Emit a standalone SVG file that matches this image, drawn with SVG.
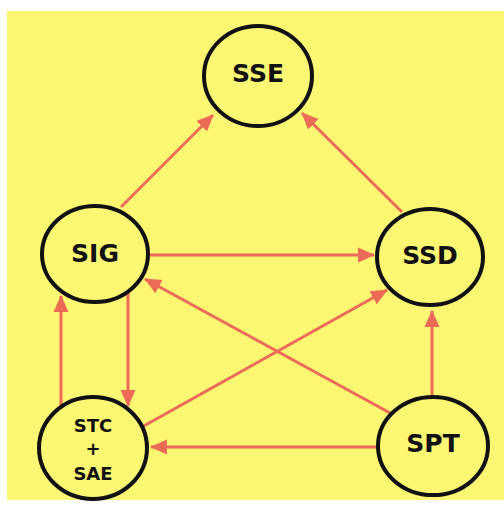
<svg xmlns="http://www.w3.org/2000/svg" width="504" height="506" viewBox="0 0 504 506">
  <style>
    .node ellipse { fill: none; stroke: #111; stroke-width: 4; }
    .node text { font-family: "DejaVu Sans", Verdana, sans-serif; font-weight: bold; fill: #111; text-anchor: middle; dominant-baseline: central; }
    .big { font-size: 25px; }
    .small { font-size: 18px; }
    .edge { stroke: #ec6b57; stroke-width: 3; fill: none; marker-end: url(#arrow); }
  </style>
  <defs>
    <marker id="arrow" markerUnits="userSpaceOnUse" markerWidth="17" markerHeight="16" viewBox="0 0 17 16" refX="16" refY="8" orient="auto">
      <path d="M0,0.5 L17,8 L0,15.5 Z" fill="#ec6b57"/>
    </marker>
  </defs>
  <rect x="0" y="0" width="504" height="506" fill="#ffffff"/>
  <rect x="7" y="11" width="497" height="489" fill="#fbf773"/>

  <g id="connectors">
    <line class="edge" x1="121" y1="207" x2="213" y2="115"/>
    <line class="edge" x1="402" y1="212" x2="302" y2="113"/>
    <line class="edge" x1="150" y1="255" x2="374" y2="255"/>
    <line class="edge" x1="390" y1="413" x2="145" y2="279"/>
    <line class="edge" x1="142" y1="427" x2="387" y2="290"/>
    <line class="edge" x1="128" y1="293" x2="128" y2="406"/>
    <line class="edge" x1="61" y1="407" x2="61" y2="296"/>
    <line class="edge" x1="432" y1="397" x2="432" y2="311"/>
    <line class="edge" x1="377" y1="447" x2="151" y2="447"/>
  </g>

  <g id="SSE" class="node">
    <ellipse cx="258" cy="76" rx="54" ry="50"/>
    <text class="big" x="258" y="73">SSE</text>
  </g>
  <g id="SIG" class="node">
    <ellipse cx="95" cy="254" rx="53" ry="48"/>
    <text class="big" x="95" y="253">SIG</text>
  </g>
  <g id="SSD" class="node">
    <ellipse cx="430" cy="257" rx="53" ry="48"/>
    <text class="big" x="430" y="255">SSD</text>
  </g>
  <g id="STC_SAE" class="node">
    <ellipse cx="93" cy="448" rx="54" ry="51"/>
    <text class="small" x="93" y="425">STC</text>
    <text class="small" x="93" y="448">+</text>
    <text class="small" x="93" y="473">SAE</text>
  </g>
  <g id="SPT" class="node">
    <ellipse cx="433" cy="446" rx="55" ry="49"/>
    <text class="big" x="433" y="443">SPT</text>
  </g>
</svg>
